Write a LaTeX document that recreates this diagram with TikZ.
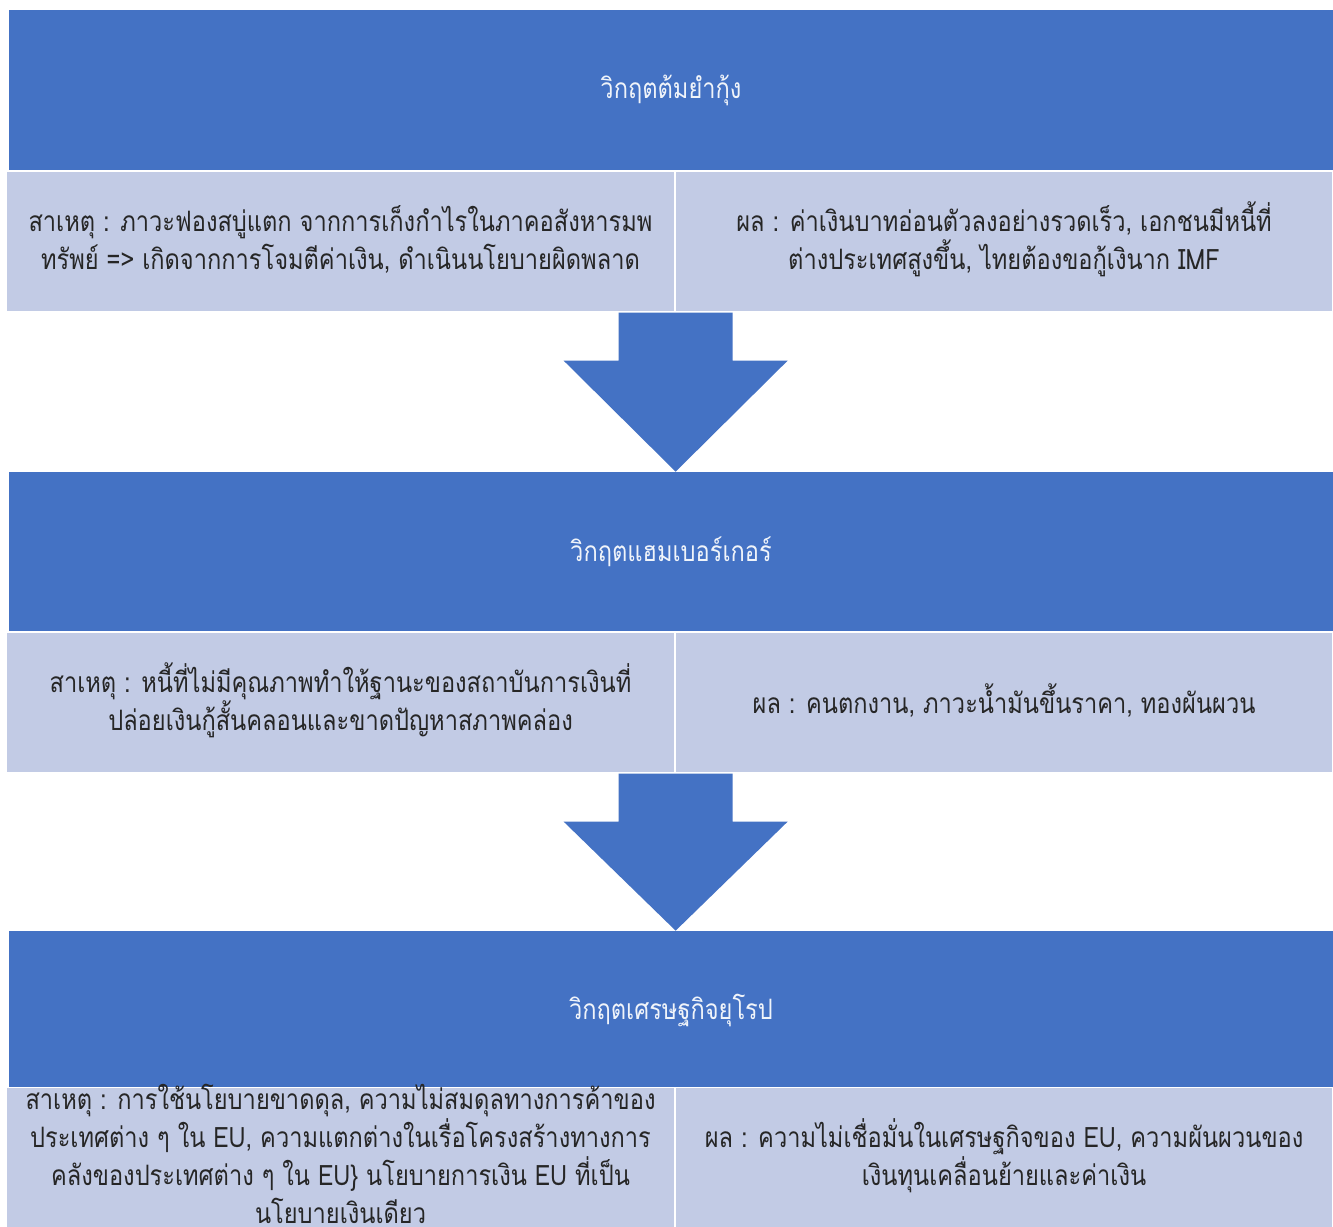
\documentclass[tikz,border=0pt]{standalone}
\usepackage{fontspec}
\newfontfamily\thaifont[Script=Thai, FakeStretch=0.84]{Loma}
\usetikzlibrary{calc}
\definecolor{hdrblue}{RGB}{68,114,196}
\definecolor{cellblue}{RGB}{194,203,229}
\tikzset{
  header/.style={fill=hdrblue, minimum width=26.48cm, minimum height=3.2cm, inner sep=0pt,
    font=\thaifont\fontsize{16}{21.5}\selectfont, text=white!92!hdrblue},
  cell/.style={fill=cellblue, draw=white, line width=0.8pt, minimum height=2.82cm, inner sep=0pt},
  celltext/.style={align=center, inner sep=0pt, text=black!85,
    font=\thaifont\fontsize{16}{21.5}\selectfont},
  bigarrow/.style={fill=hdrblue}
}
\begin{document}
\begin{tikzpicture}[x=0.02cm, y=-0.02cm]
\useasboundingbox (0,0) rectangle (1333,1227);

% headers
\node[header] (crisis1) at (671,90) {วิกฤตต้มยำกุ้ง};
\node[header] (crisis2) at (671,552) {วิกฤตแฮมเบอร์เกอร์};
\node[header] (crisis3) at (671,1011) {วิกฤตเศรษฐกิจยุโรป};

% cause / effect cells
\node[cell, minimum width=13.38cm] (cause1) at (340.5,241.5) {};
\node[cell, minimum width=13.16cm] (effect1) at (1004,241.5) {};
\node[cell, minimum width=13.38cm] (cause2) at (340.5,702.5) {};
\node[cell, minimum width=13.16cm] (effect2) at (1004,702.5) {};
\node[cell, minimum width=13.38cm] (cause3) at (340.5,1158) {};
\node[cell, minimum width=13.16cm] (effect3) at (1004,1158) {};

\node[celltext] (cause1txt) at ($(cause1)+(0,-2)$) {สาเหตุ : ภาวะฟองสบู่แตก จากการเก็งกำไรในภาคอสังหารมพ\\ทรัพย์ => เกิดจากการโจมตีค่าเงิน, ดำเนินนโยบายผิดพลาด};
\node[celltext] (effect1txt) at ($(effect1)+(0,-2)$) {ผล : ค่าเงินบาทอ่อนตัวลงอย่างรวดเร็ว, เอกชนมีหนี้ที่\\ต่างประเทศสูงขึ้น, ไทยต้องขอกู้เงินาก IMF};
\node[celltext] (cause2txt) at ($(cause2)+(0,-2)$) {สาเหตุ : หนี้ที่ไม่มีคุณภาพทำให้ฐานะของสถาบันการเงินที่\\ปล่อยเงินกู้สั้นคลอนและขาดปัญหาสภาพคล่อง};
\node[celltext] (effect2txt) at ($(effect2)+(0,-2)$) {ผล : คนตกงาน, ภาวะน้ำมันขึ้นราคา, ทองผันผวน};
\node[celltext] (cause3txt) at ($(cause3)+(0,-4)$) {สาเหตุ : การใช้นโยบายขาดดุล, ความไม่สมดุลทางการค้าของ\\ประเทศต่าง ๆ ใน EU, ความแตกต่างในเรื่อโครงสร้างทางการ\\คลังของประเทศต่าง ๆ ใน EU\} นโยบายการเงิน EU ที่เป็น\\นโยบายเงินเดียว};
\node[celltext] (effect3txt) at ($(effect3)+(0,-2)$) {ผล : ความไม่เชื่อมั่นในเศรษฐกิจของ EU, ความผันผวนของ\\เงินทุนเคลื่อนย้ายและค่าเงิน};

% block arrows
\foreach \a/\b in {cause1/crisis2, cause2/crisis3} {
  \fill[bigarrow] ($(\a.south east)+(-1.14cm,0)$) -- ($(\a.south east)+(1.14cm,0)$)
    -- ($(\a.south east)+(1.14cm,-0.96cm)$) -- ($(\a.south east)+(2.24cm,-0.96cm)$)
    -- (\a.south east |- \b.north)
    -- ($(\a.south east)+(-2.24cm,-0.96cm)$) -- ($(\a.south east)+(-1.14cm,-0.96cm)$) -- cycle;
}
\end{tikzpicture}
\end{document}
